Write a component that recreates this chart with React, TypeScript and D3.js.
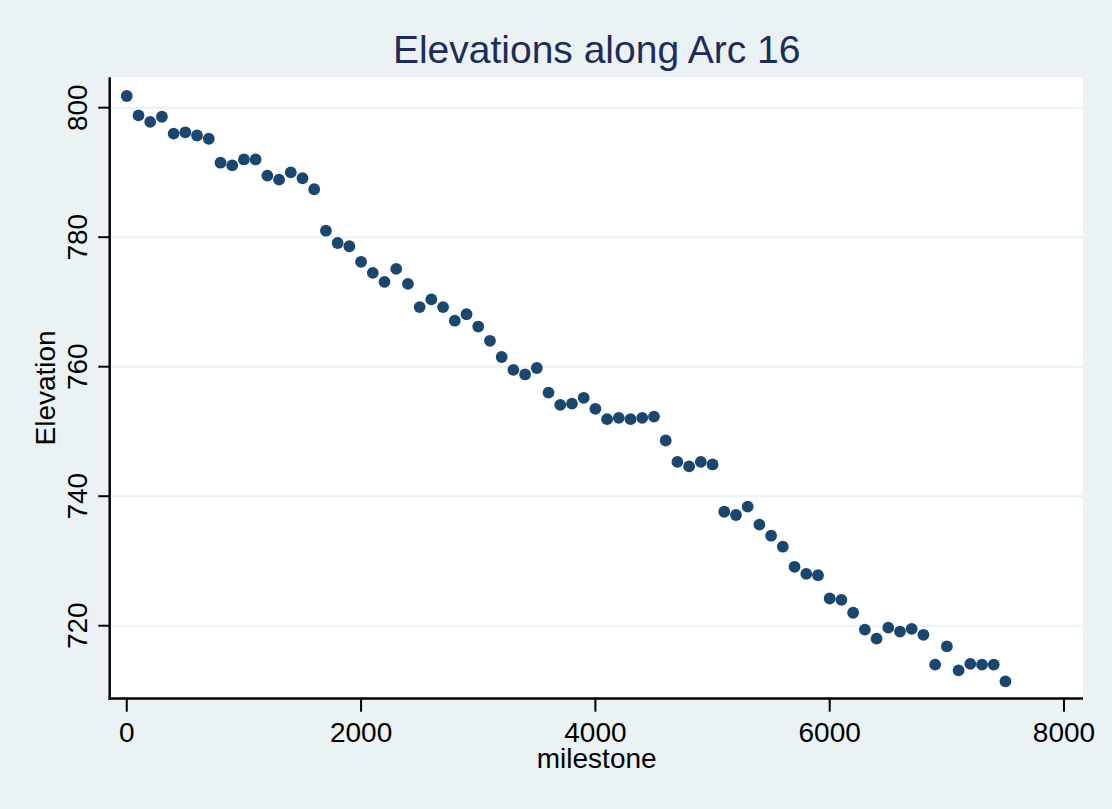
import React from "react";
import * as d3 from "d3";

const milestones: number[] = [
  0, 100, 200, 300, 400, 500, 600, 700, 800, 900,
  1000, 1100, 1200, 1300, 1400, 1500, 1600, 1700, 1800, 1900,
  2000, 2100, 2200, 2300, 2400, 2500, 2600, 2700, 2800, 2900,
  3000, 3100, 3200, 3300, 3400, 3500, 3600, 3700, 3800, 3900,
  4000, 4100, 4200, 4300, 4400, 4500, 4600, 4700, 4800, 4900,
  5000, 5100, 5200, 5300, 5400, 5500, 5600, 5700, 5800, 5900,
  6000, 6100, 6200, 6300, 6400, 6500, 6600, 6700, 6800, 6900,
  7000, 7100, 7200, 7300, 7400, 7500,
];

const elevations: number[] = [
  801.8, 798.8, 797.8, 798.6, 796.0, 796.2, 795.7, 795.2, 791.5, 791.1,
  792.0, 792.0, 789.5, 788.9, 790.0, 789.1, 787.4, 781.0, 779.1, 778.6,
  776.2, 774.5, 773.1, 775.1, 772.8, 769.2, 770.4, 769.2, 767.1, 768.1,
  766.2, 764.0, 761.5, 759.5, 758.8, 759.8, 756.0, 754.1, 754.3, 755.2,
  753.5, 751.9, 752.1, 751.9, 752.1, 752.3, 748.6, 745.3, 744.6, 745.3,
  744.9, 737.6, 737.1, 738.4, 735.6, 733.9, 732.2, 729.1, 728.0, 727.8,
  724.2, 724.0, 722.0, 719.4, 718.0, 719.7, 719.1, 719.5, 718.6, 714.0,
  716.8, 713.1, 714.1, 714.0, 714.0, 711.4,
];

const xTicks: number[] = [0, 2000, 4000, 6000, 8000];
const yTicks: number[] = [720, 740, 760, 780, 800];

const titleText = "Elevations along Arc 16";
const xLabel = "milestone";
const yLabel = "Elevation";

const W = 1112;
const H = 809;
const FONT = "'Liberation Sans', Arial, Helvetica, sans-serif";

export default function App() {
  const left = 110;
  const right = 1083;
  const top = 77.3;
  const bottom = 698.5;

  const x = d3.scaleLinear().domain([-143, 8162]).range([left, right]);
  const y = d3.scaleLinear().domain([708.76, 804.69]).range([bottom, top]);

  return (
    <svg
      width={W}
      height={H}
      style={{ position: "fixed", left: 0, top: 0, display: "block" }}
      xmlns="http://www.w3.org/2000/svg"
    >
      <rect x={0} y={0} width={W} height={H} fill="#eaf2f3" />
      <rect x={left} y={top} width={right - left} height={bottom - top} fill="#ffffff" />

      {yTicks.map((t) => (
        <line
          key={"g" + t}
          x1={left}
          x2={right}
          y1={y(t)}
          y2={y(t)}
          stroke="#eaf2f3"
          strokeWidth={2}
        />
      ))}

      {milestones.map((m, i) => (
        <circle key={m} cx={x(m)} cy={y(elevations[i])} r={5.9} fill="#1a476f" />
      ))}

      {/* axes */}
      <line x1={left - 0.3} x2={left - 0.3} y1={top} y2={bottom + 1.2} stroke="#000" strokeWidth={2.4} />
      <line x1={left - 1.5} x2={right} y1={bottom} y2={bottom} stroke="#000" strokeWidth={2.6} />

      {yTicks.map((t) => (
        <g key={"yt" + t}>
          <line x1={98.3} x2={left} y1={y(t)} y2={y(t)} stroke="#000" strokeWidth={2} />
          <text
            transform={`translate(86.7, ${y(t)}) rotate(-90)`}
            textAnchor="middle"
            fontFamily={FONT}
            fontSize={28}
            fill="#000"
          >
            {t}
          </text>
        </g>
      ))}

      {xTicks.map((t) => (
        <g key={"xt" + t}>
          <line x1={x(t)} x2={x(t)} y1={bottom} y2={711.7} stroke="#000" strokeWidth={2} />
          <text x={x(t)} y={742.3} textAnchor="middle" fontFamily={FONT} fontSize={28} fill="#000">
            {t}
          </text>
        </g>
      ))}

      <text x={(left + right) / 2 + 0.2} y={767.7} textAnchor="middle" fontFamily={FONT} fontSize={28} fill="#000">
        {xLabel}
      </text>
      <text
        transform={`translate(55, ${(top + bottom) / 2}) rotate(-90)`}
        textAnchor="middle"
        fontFamily={FONT}
        fontSize={28}
        fill="#000"
      >
        {yLabel}
      </text>

      <text x={596.7} y={63.3} textAnchor="middle" fontFamily={FONT} fontSize={39} fill="#1e2d58">
        {titleText}
      </text>
    </svg>
  );
}
